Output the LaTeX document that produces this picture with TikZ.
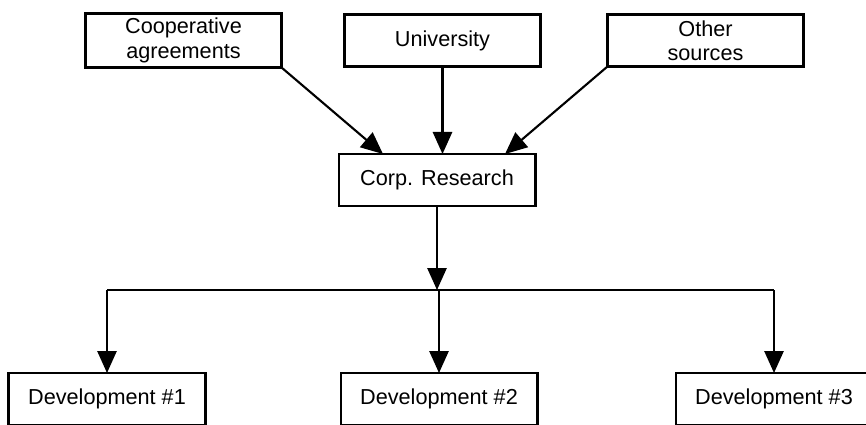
\documentclass[tikz,border=0pt]{standalone}
\usepackage{fontspec}
\setmainfont{Liberation Sans}
\usepackage{tikz}
\usetikzlibrary{arrows.meta,calc,positioning}
\tikzset{%
	box/.style      = {draw, rectangle, line width=2.1pt, outer sep=0pt, minimum width=4.9cm, minimum height=1.3cm, align=center, font=\fontsize{15.4pt}{17.4pt}\selectfont}, % Block
	waypoint/.style = {coordinate}, % Branch point
	arrow/.style    = {line width=1.5pt, -{Triangle[length=0.55cm,width=0.48cm]}},
	link/.style     = {line width=1.5pt},
}
\begin{document}
\begin{tikzpicture}[x=0.025cm,y=-0.025cm]
	\clip (0,0) rectangle (866,424);
	\node [box] (coop) at (183.5,40.5) {Cooperative\\agreements};
	\node [box] (univ) at (442.5,40.5) {University};
	\node [box] (other) at (705.5,40.5) {Other\\sources};
	\node [box] (corp) at (437,180) {Corp. Research};
	\node [waypoint] (split) at (437,290) {};
	\node [box] (dev1) at (107,399) {Development \#1};
	\node [box] (dev2) at (439,399) {Development \#2};
	\node [box] (dev3) at (774,399) {Development \#3};

	\draw[arrow] (coop.south east) -- ([xshift=-1.35cm]corp.north);
	\draw[arrow] (univ.south) -- (univ.south |- corp.north);
	\draw[arrow] (other.south west) -- ([xshift=1.7cm]corp.north);
	\draw[arrow] (corp.south) -- (split);
	\draw[link] (split -| dev1.north) -- (split -| dev3.north);
	\draw[arrow] (split -| dev1.north) -- (dev1.north);
	\draw[arrow] (split -| dev2.north) -- (dev2.north);
	\draw[arrow] (split -| dev3.north) -- (dev3.north);
\end{tikzpicture}
\end{document}
